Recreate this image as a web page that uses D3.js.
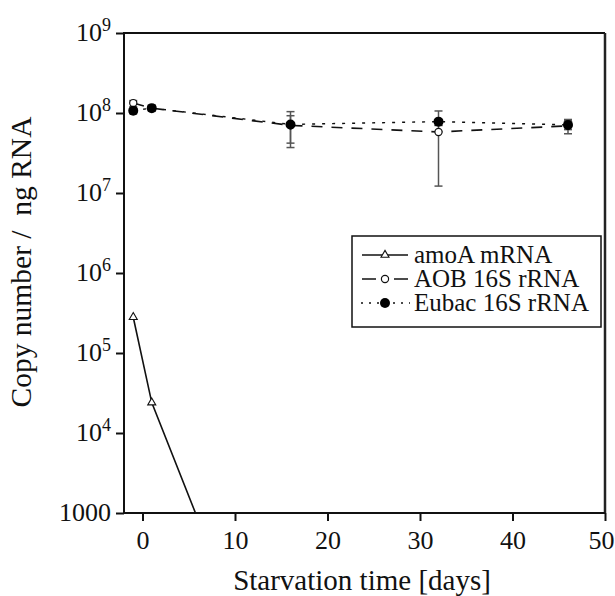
<!DOCTYPE html>
<html><head><meta charset="utf-8">
<script src="https://cdn.jsdelivr.net/npm/d3@7"></script>
<style>body{margin:0;background:#fff}svg{display:block}text{font-family:"Liberation Serif","Times New Roman",serif;fill:#111}</style>
</head><body>
<svg id="c" width="615" height="596"></svg>
<script>
// ---- data ----
const xTicks = [0, 10, 20, 30, 40, 50];
const yTickExps = [3, 4, 5, 6, 7, 8, 9];
const amoaDays = [-1, 1, 16];
const amoaValues = [2.8e5, 2.4e4, 1];
const rrnaDays = [-1, 1, 16, 32, 46];
const aobValues = [1.33e8, 1.15e8, 7.0e7, 5.8e7, 6.9e7];
const aobLow = [1.2e8, 1.05e8, 3.7e7, 1.22e7, 5.5e7];
const aobHigh = [1.43e8, 1.25e8, 9.25e7, 7.0e7, 8.3e7];
const eubacValues = [1.07e8, 1.15e8, 7.2e7, 7.8e7, 7.1e7];
const eubacLow = [9.8e7, 1.08e8, 4.2e7, 7.0e7, 6.2e7];
const eubacHigh = [1.14e8, 1.22e8, 1.04e8, 1.06e8, 8.0e7];
const legendLabels = ["amoA mRNA", "AOB 16S rRNA", "Eubac 16S rRNA"];
const xLabel = "Starvation time [days]";
const yLabel = "Copy number /  ng RNA";

const svg = d3.select("#c");
const L = 124, R = 605, T = 33, B = 513;
const x = d3.scaleLinear().domain([-2, 50]).range([L, R]);
const y = d3.scaleLog().domain([1e3, 1e9]).range([B, T]);

svg.append("clipPath").attr("id", "clip").append("rect")
  .attr("x", L).attr("y", T).attr("width", R - L).attr("height", B - T);

// frame (top/right)
svg.append("line").attr("x1", L).attr("x2", R).attr("y1", T).attr("y2", T)
  .attr("stroke", "#111").attr("stroke-width", 2);
svg.append("line").attr("x1", R).attr("x2", R).attr("y1", T).attr("y2", B)
  .attr("stroke", "#222").attr("stroke-width", 2.5);

// axes
const xAxis = d3.axisBottom(x).tickValues(xTicks).tickSize(8).tickFormat("");
const gx = svg.append("g").attr("transform", `translate(0,${B})`).call(xAxis);
gx.select(".domain").attr("d", `M${L},0H${R}`).attr("stroke-width", 2).attr("stroke", "#111");
gx.selectAll(".tick line").attr("stroke-width", 2).attr("stroke", "#111");
gx.selectAll(".tick").append("text").attr("y", 36)
  .attr("text-anchor", d => d === 50 ? "end" : "middle")
  .attr("x", d => d === 50 ? 9 : 0)
  .attr("font-size", 26).text(d => d);

const yAxis = d3.axisLeft(y).tickValues(yTickExps.map(e => Math.pow(10, e))).tickSize(8).tickFormat("");
const gy = svg.append("g").attr("transform", `translate(${L},0)`).call(yAxis);
gy.select(".domain").attr("d", `M0,${B + 1}V${T - 1}`).attr("stroke-width", 2).attr("stroke", "#111");
gy.selectAll(".tick line").attr("stroke-width", 2).attr("stroke", "#111");
gy.selectAll(".tick").each(function (d) {
  const e = Math.round(Math.log10(d));
  const t = d3.select(this).append("text").attr("font-size", 26).attr("text-anchor", "end").attr("x", -13).attr("y", 7);
  if (e === 3) { t.text("1000"); }
  else {
    t.append("tspan").text("10");
    t.append("tspan").attr("font-size", 18).attr("dy", -10).text(e);
  }
});

// axis titles
svg.append("text").attr("x", 362).attr("y", 590).attr("text-anchor", "middle")
  .attr("font-size", 29).text(xLabel);
svg.append("text").attr("transform", `translate(31,${(T + B) / 2 - 11}) rotate(-90)`)
  .attr("text-anchor", "middle").attr("font-size", 29.5).style("white-space", "pre").text(yLabel);

const plot = svg.append("g").attr("clip-path", "url(#clip)");
const line = d3.line().x(d => x(d[0])).y(d => y(d[1]));

// amoA
plot.append("path").datum(amoaDays.map((d, i) => [d, amoaValues[i]]))
  .attr("d", line).attr("fill", "none").attr("stroke", "#111").attr("stroke-width", 1.6);
const tri = d3.symbol().type(d3.symbolTriangle).size(28);
plot.selectAll(".tri").data(amoaDays.map((d, i) => [d, amoaValues[i]])).join("path")
  .attr("transform", d => `translate(${x(d[0])},${y(d[1])})`).attr("d", tri)
  .attr("fill", "#fff").attr("stroke", "#111").attr("stroke-width", 1.1);

// error bars
function errBars(lo, hi) {
  const g = plot.append("g").attr("stroke", "#555").attr("stroke-width", 1.5);
  rrnaDays.forEach((d, i) => {
    const cx = x(d);
    g.append("line").attr("x1", cx).attr("x2", cx).attr("y1", y(lo[i])).attr("y2", y(hi[i]));
    g.append("line").attr("x1", cx - 4).attr("x2", cx + 4).attr("y1", y(lo[i])).attr("y2", y(lo[i]));
    g.append("line").attr("x1", cx - 4).attr("x2", cx + 4).attr("y1", y(hi[i])).attr("y2", y(hi[i]));
  });
}
errBars(aobLow, aobHigh);
errBars(eubacLow, eubacHigh);

// AOB dashed
plot.append("path").datum(rrnaDays.map((d, i) => [d, aobValues[i]]))
  .attr("d", line).attr("fill", "none").attr("stroke", "#111").attr("stroke-width", 1.6)
  .attr("stroke-dasharray", "11,9");
// Eubac dotted
plot.append("path").datum(rrnaDays.map((d, i) => [d, eubacValues[i]]))
  .attr("d", line).attr("fill", "none").attr("stroke", "#111").attr("stroke-width", 1.4)
  .attr("stroke-dasharray", "3,7");

plot.selectAll(".aob").data(rrnaDays.map((d, i) => [d, aobValues[i]])).join("circle")
  .attr("cx", d => x(d[0])).attr("cy", d => y(d[1])).attr("r", 3.6)
  .attr("fill", "#fff").attr("stroke", "#111").attr("stroke-width", 1.2);
plot.selectAll(".eub").data(rrnaDays.map((d, i) => [d, eubacValues[i]])).join("circle")
  .attr("cx", d => x(d[0])).attr("cy", d => y(d[1])).attr("r", 5).attr("fill", "#000");

// legend
const lg = svg.append("g");
lg.append("rect").attr("x", 352).attr("y", 236).attr("width", 249).attr("height", 91)
  .attr("fill", "#fff").attr("stroke", "#111").attr("stroke-width", 1.5);
const rows = [255, 279, 303];
lg.append("line").attr("x1", 362).attr("x2", 408).attr("y1", rows[0]).attr("y2", rows[0])
  .attr("stroke", "#111").attr("stroke-width", 1.5);
lg.append("path").attr("transform", `translate(385,${rows[0]})`).attr("d", tri)
  .attr("fill", "#fff").attr("stroke", "#111").attr("stroke-width", 1.1);
lg.append("line").attr("x1", 362).attr("x2", 408).attr("y1", rows[1]).attr("y2", rows[1])
  .attr("stroke", "#111").attr("stroke-width", 1.5).attr("stroke-dasharray", "14,18,14");
lg.append("circle").attr("cx", 385).attr("cy", rows[1]).attr("r", 3.6)
  .attr("fill", "#fff").attr("stroke", "#111").attr("stroke-width", 1.2);
lg.append("line").attr("x1", 361).attr("x2", 410).attr("y1", rows[2]).attr("y2", rows[2])
  .attr("stroke", "#111").attr("stroke-width", 1.5).attr("stroke-dasharray", "2,6");
lg.append("circle").attr("cx", 385).attr("cy", rows[2]).attr("r", 5).attr("fill", "#000");
legendLabels.forEach((t, i) => {
  lg.append("text").attr("x", 414).attr("y", rows[i] + 8).attr("font-size", 25).text(t);
});
</script>
</body></html>
